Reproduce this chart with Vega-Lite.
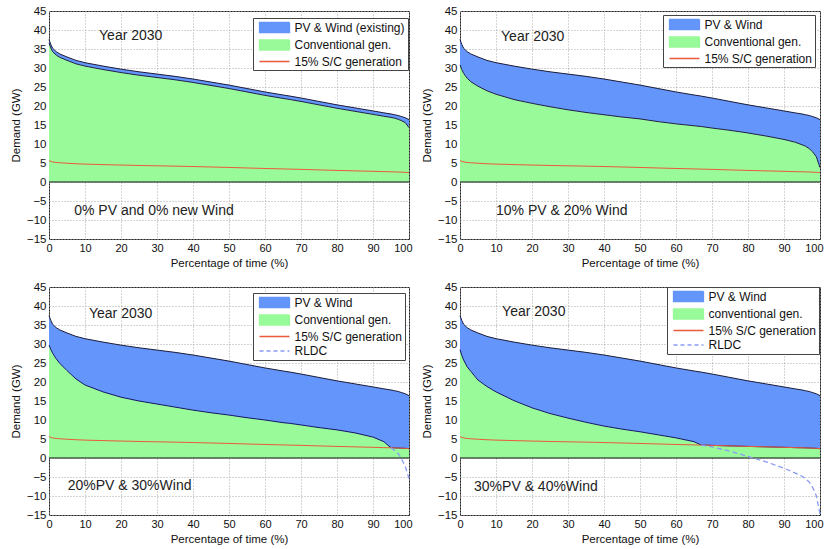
{
  "$schema": "https://vega.github.io/schema/vega-lite/v6.json",
  "background": "white",
  "padding": {"left": 9, "top": 4, "right": 0, "bottom": 0},
  "config": {
    "font": "Liberation Sans",
    "view": {"stroke": "#222", "strokeWidth": 1},
    "axis": {
      "labelFont": "Liberation Sans", "titleFont": "Liberation Sans",
      "labelFontSize": 11.5, "titleFontSize": 11.5, "titleFontWeight": "normal",
      "labelColor": "#111", "titleColor": "#111",
      "ticks": false, "domain": false, "labelPadding": 3,
      "labelFlush": false, "labelOverlap": false, "grid": true, "tickCount": 30,
      "gridColor": "#a8a8a8", "gridDash": [1, 2], "gridWidth": 1
    },
    "axisX": {"titlePadding": 4, "labelFontSize": 11},
    "axisY": {"titlePadding": 5},
    "legend": {
      "orient": "none", "title": null, "fillColor": "white", "strokeColor": "#444",
      "padding": 2.5, "rowPadding": 1.5, "symbolSize": 144, "labelOffset": 25,
      "labelFontSize": 12, "labelFont": "Liberation Sans", "labelColor": "#111",
      "cornerRadius": 0, "symbolOpacity": 1
    }
  },
  "datasets": {
    "tl": [
      {"x":0,"d":37.5,"c":36.6,"s":5.63},{"x":0.5,"d":36.2,"c":35.3,"s":5.43},{"x":1,"d":35.2,"c":34.3,"s":5.28},{"x":2,"d":34.3,"c":33.4,"s":5.15},{"x":3,"d":33.7,"c":32.8,"s":5.06},{"x":5,"d":32.9,"c":32.0,"s":4.94},{"x":7.5,"d":32.0,"c":31.1,"s":4.8},{"x":10,"d":31.4,"c":30.5,"s":4.71},{"x":15,"d":30.5,"c":29.6,"s":4.58},{"x":20,"d":29.7,"c":28.8,"s":4.46},{"x":25,"d":29.0,"c":28.1,"s":4.35},{"x":30,"d":28.4,"c":27.5,"s":4.26},{"x":35,"d":27.8,"c":26.9,"s":4.17},{"x":40,"d":27.1,"c":26.2,"s":4.07},{"x":45,"d":26.3,"c":25.4,"s":3.95},{"x":50,"d":25.5,"c":24.6,"s":3.83},{"x":55,"d":24.6,"c":23.7,"s":3.69},{"x":60,"d":23.7,"c":22.8,"s":3.56},{"x":65,"d":22.9,"c":22.0,"s":3.44},{"x":67,"d":22.6,"c":21.7,"s":3.39},{"x":70,"d":22.1,"c":21.2,"s":3.32},{"x":75,"d":21.2,"c":20.3,"s":3.18},{"x":80,"d":20.3,"c":19.4,"s":3.05},{"x":85,"d":19.5,"c":18.6,"s":2.93},{"x":90,"d":18.7,"c":17.8,"s":2.81},{"x":93,"d":18.2,"c":17.3,"s":2.73},{"x":95,"d":17.9,"c":17.0,"s":2.69},{"x":96,"d":17.7,"c":16.8,"s":2.66},{"x":97,"d":17.5,"c":16.5,"s":2.63},{"x":98,"d":17.2,"c":16.1,"s":2.58},{"x":99,"d":16.9,"c":15.6,"s":2.54},{"x":100,"d":16.4,"c":14.3,"s":2.46}
    ],
    "tr": [
      {"x":0,"d":37.5,"c":30.8,"s":5.63},{"x":0.5,"d":36.2,"c":29.6,"s":5.43},{"x":1,"d":35.2,"c":28.6,"s":5.28},{"x":2,"d":34.3,"c":27.3,"s":5.15},{"x":3,"d":33.7,"c":26.4,"s":5.06},{"x":5,"d":32.9,"c":25.2,"s":4.94},{"x":7.5,"d":32.0,"c":24.0,"s":4.8},{"x":10,"d":31.4,"c":23.1,"s":4.71},{"x":15,"d":30.5,"c":21.7,"s":4.58},{"x":20,"d":29.7,"c":20.7,"s":4.46},{"x":25,"d":29.0,"c":19.8,"s":4.35},{"x":30,"d":28.4,"c":19.0,"s":4.26},{"x":35,"d":27.8,"c":18.3,"s":4.17},{"x":40,"d":27.1,"c":17.7,"s":4.07},{"x":45,"d":26.3,"c":17.1,"s":3.95},{"x":50,"d":25.5,"c":16.6,"s":3.83},{"x":55,"d":24.6,"c":15.9,"s":3.69},{"x":60,"d":23.7,"c":15.3,"s":3.56},{"x":65,"d":22.9,"c":14.8,"s":3.44},{"x":67,"d":22.6,"c":14.6,"s":3.39},{"x":70,"d":22.1,"c":14.2,"s":3.32},{"x":75,"d":21.2,"c":13.6,"s":3.18},{"x":80,"d":20.3,"c":12.9,"s":3.05},{"x":85,"d":19.5,"c":12.1,"s":2.93},{"x":90,"d":18.7,"c":11.2,"s":2.81},{"x":93,"d":18.2,"c":10.5,"s":2.73},{"x":95,"d":17.9,"c":9.8,"s":2.69},{"x":96,"d":17.7,"c":9.4,"s":2.66},{"x":97,"d":17.5,"c":8.8,"s":2.63},{"x":98,"d":17.2,"c":7.9,"s":2.58},{"x":99,"d":16.9,"c":6.6,"s":2.54},{"x":100,"d":16.4,"c":3.8,"s":2.46}
    ],
    "bl": [
      {"x":0,"d":37.5,"c":29.7,"s":5.63},{"x":0.5,"d":36.2,"c":28.6,"s":5.43},{"x":1,"d":35.2,"c":27.6,"s":5.28},{"x":2,"d":34.3,"c":26.1,"s":5.15},{"x":3,"d":33.7,"c":24.9,"s":5.06},{"x":5,"d":32.9,"c":23.0,"s":4.94},{"x":7.5,"d":32.0,"c":20.8,"s":4.8},{"x":10,"d":31.4,"c":19.2,"s":4.71},{"x":15,"d":30.5,"c":17.4,"s":4.58},{"x":20,"d":29.7,"c":16.0,"s":4.46},{"x":25,"d":29.0,"c":15.0,"s":4.35},{"x":30,"d":28.4,"c":14.2,"s":4.26},{"x":35,"d":27.8,"c":13.4,"s":4.17},{"x":40,"d":27.1,"c":12.6,"s":4.07},{"x":45,"d":26.3,"c":11.9,"s":3.95},{"x":50,"d":25.5,"c":11.3,"s":3.83},{"x":55,"d":24.6,"c":10.6,"s":3.69},{"x":60,"d":23.7,"c":10.0,"s":3.56},{"x":65,"d":22.9,"c":9.3,"s":3.44},{"x":67,"d":22.6,"c":9.1,"s":3.39},{"x":70,"d":22.1,"c":8.7,"s":3.32},{"x":75,"d":21.2,"c":8.0,"s":3.18},{"x":80,"d":20.3,"c":7.4,"s":3.05},{"x":85,"d":19.5,"c":6.6,"s":2.93},{"x":90,"d":18.7,"c":5.5,"s":2.81},{"x":93,"d":18.2,"c":4.3,"s":2.73},{"x":95,"d":17.9,"c":2.69,"s":2.69,"r":2.69},{"x":96,"d":17.7,"c":2.66,"s":2.66,"r":2.0},{"x":97,"d":17.5,"c":2.63,"s":2.63,"r":1.2},{"x":98,"d":17.2,"c":2.58,"s":2.58,"r":-0.4},{"x":99,"d":16.9,"c":2.54,"s":2.54,"r":-2.3},{"x":100,"d":16.4,"c":2.46,"s":2.46,"r":-5.4}
    ],
    "br": [
      {"x":0,"d":37.5,"c":28.5,"s":5.63},{"x":0.5,"d":36.2,"c":27.0,"s":5.43},{"x":1,"d":35.2,"c":25.8,"s":5.28},{"x":2,"d":34.3,"c":24.0,"s":5.15},{"x":3,"d":33.7,"c":22.8,"s":5.06},{"x":5,"d":32.9,"c":20.5,"s":4.94},{"x":7.5,"d":32.0,"c":18.8,"s":4.8},{"x":10,"d":31.4,"c":17.4,"s":4.71},{"x":15,"d":30.5,"c":15.1,"s":4.58},{"x":20,"d":29.7,"c":13.2,"s":4.46},{"x":25,"d":29.0,"c":11.7,"s":4.35},{"x":30,"d":28.4,"c":10.5,"s":4.26},{"x":35,"d":27.8,"c":9.4,"s":4.17},{"x":40,"d":27.1,"c":8.4,"s":4.07},{"x":45,"d":26.3,"c":7.6,"s":3.95},{"x":50,"d":25.5,"c":6.9,"s":3.83},{"x":55,"d":24.6,"c":6.1,"s":3.69},{"x":60,"d":23.7,"c":5.3,"s":3.56},{"x":65,"d":22.9,"c":4.3,"s":3.44},{"x":67,"d":22.6,"c":3.39,"s":3.39,"r":3.39},{"x":70,"d":22.1,"c":3.32,"s":3.32,"r":2.9},{"x":75,"d":21.2,"c":3.18,"s":3.18,"r":1.8},{"x":80,"d":20.3,"c":3.05,"s":3.05,"r":0.4},{"x":85,"d":19.5,"c":2.93,"s":2.93,"r":-1.0},{"x":90,"d":18.7,"c":2.81,"s":2.81,"r":-2.7},{"x":93,"d":18.2,"c":2.73,"s":2.73,"r":-3.9},{"x":95,"d":17.9,"c":2.69,"s":2.69,"r":-4.8},{"x":96,"d":17.7,"c":2.66,"s":2.66,"r":-5.5},{"x":97,"d":17.5,"c":2.63,"s":2.63,"r":-6.3},{"x":98,"d":17.2,"c":2.58,"s":2.58,"r":-7.8},{"x":99,"d":16.9,"c":2.54,"s":2.54,"r":-10.0},{"x":100,"d":16.4,"c":2.46,"s":2.46,"r":-14.7}
    ]
  },
  "columns": 2,
  "bounds": "flush",
  "spacing": {"row": 48, "column": 51},
  "resolve": {"scale": {"color": "independent"}, "legend": {"color": "independent"}},
  "concat": [
    {
      "width": 360, "height": 228,
      "layer": [
        {"data": {"name": "tl"}, "mark": {"type": "area", "opacity": 1}, "encoding": {
          "x": {"field": "x", "type": "quantitative", "scale": {"domain": [0, 100], "nice": false}, "title": "Percentage of time (%)", "axis": {"values": [0,10,20,30,40,50,60,70,80,90,100], "tickCount": 30, "grid": true, "labelOverlap": false, "labelFlush": true, "labelFlushOffset": 3}},
          "y": {"field": "d", "type": "quantitative", "scale": {"domain": [-15, 45], "nice": false}, "title": "Demand (GW)", "axis": {"values": [-15,-10,-5,0,5,10,15,20,25,30,35,40,45], "tickCount": 30, "grid": true, "labelOverlap": false}},
          "y2": {"field": "c"},
          "color": {"datum": "PV & Wind (existing)", "scale": {"domain": ["PV & Wind (existing)", "Conventional gen.", "15% S/C generation"], "range": ["#6395fa", "#98fa98", "#ec5a3c"]}, "legend": {"legendX": 204, "legendY": 7, "encode": {"symbols": {"update": {
            "shape": {"signal": "(datum.index >= 2 || indexof(datum.value, '15%') === 0 || datum.value === 'RLDC') ? 'M-0.5,0H4.5' : 'M-0.5,-0.833H4.5V0.833H-0.5Z'"},
            "fill": {"signal": "(datum.index === 0 || indexof(datum.value, 'PV') === 0) ? '#6395fa' : ((datum.index === 1 || indexof(lower(datum.value), 'conventional') === 0) ? '#98fa98' : 'transparent')"},
            "stroke": {"signal": "(datum.index === 2 || indexof(datum.value, '15%') === 0) ? '#ec5a3c' : ((datum.index === 3 || datum.value === 'RLDC') ? '#8c9bf5' : '#333')"},
            "strokeDash": {"signal": "(datum.index === 3 || datum.value === 'RLDC') ? [4, 3] : [1, 0]"},
            "strokeWidth": {"value": 1.3}, "size": {"value": 144}, "opacity": {"value": 1}}}}}}}},
        {"data": {"name": "tl"}, "mark": {"type": "area", "opacity": 1}, "encoding": {"x": {"field": "x", "type": "quantitative", "title": "Percentage of time (%)"}, "y": {"field": "c", "type": "quantitative", "title": "Demand (GW)"}, "y2": {"datum": 0}, "color": {"datum": "Conventional gen."}}},
        {"data": {"name": "tl"}, "mark": {"type": "line", "color": "#1c1c3a", "strokeWidth": 1}, "encoding": {"x": {"field": "x", "type": "quantitative", "title": "Percentage of time (%)"}, "y": {"field": "d", "type": "quantitative", "title": "Demand (GW)"}}},
        {"data": {"name": "tl"}, "mark": {"type": "line", "color": "#1c1c4a", "strokeWidth": 1}, "encoding": {"x": {"field": "x", "type": "quantitative", "title": "Percentage of time (%)"}, "y": {"field": "c", "type": "quantitative", "title": "Demand (GW)"}}},
        {"data": {"values": [{}]}, "mark": {"type": "rule", "color": "#111", "strokeWidth": 1}, "encoding": {"y": {"datum": 0, "type": "quantitative", "title": "Demand (GW)"}}},
        {"data": {"name": "tl"}, "mark": {"type": "line", "strokeWidth": 1}, "encoding": {"x": {"field": "x", "type": "quantitative", "title": "Percentage of time (%)"}, "y": {"field": "s", "type": "quantitative", "title": "Demand (GW)"}, "color": {"datum": "15% S/C generation"}}},
        {"data": {"values": [{}]}, "mark": {"type": "text", "align": "left", "baseline": "middle", "fontSize": 14, "font": "Liberation Sans", "fill": "#222"}, "encoding": {"x": {"datum": 13.9, "type": "quantitative", "title": "Percentage of time (%)"}, "y": {"datum": 38.4, "type": "quantitative", "title": "Demand (GW)"}, "text": {"value": "Year 2030"}}},
        {"data": {"values": [{}]}, "mark": {"type": "text", "align": "left", "baseline": "middle", "fontSize": 14, "font": "Liberation Sans", "fill": "#222"}, "encoding": {"x": {"datum": 7, "type": "quantitative", "title": "Percentage of time (%)"}, "y": {"datum": -7.6, "type": "quantitative", "title": "Demand (GW)"}, "text": {"value": "0% PV and 0% new Wind"}}}
      ]
    },
    {
      "width": 360, "height": 228,
      "layer": [
        {"data": {"name": "tr"}, "mark": {"type": "area", "opacity": 1}, "encoding": {
          "x": {"field": "x", "type": "quantitative", "scale": {"domain": [0, 100], "nice": false}, "title": "Percentage of time (%)", "axis": {"values": [0,10,20,30,40,50,60,70,80,90,100], "tickCount": 30, "grid": true, "labelOverlap": false, "labelFlush": true, "labelFlushOffset": 3}},
          "y": {"field": "d", "type": "quantitative", "scale": {"domain": [-15, 45], "nice": false}, "title": "Demand (GW)", "axis": {"values": [-15,-10,-5,0,5,10,15,20,25,30,35,40,45], "tickCount": 30, "grid": true, "labelOverlap": false}},
          "y2": {"field": "c"},
          "color": {"datum": "PV & Wind", "scale": {"domain": ["PV & Wind", "Conventional gen.", "15% S/C generation"], "range": ["#6395fa", "#98fa98", "#ec5a3c"]}, "legend": {"legendX": 203, "legendY": 4, "encode": {"symbols": {"update": {
            "shape": {"signal": "(datum.index >= 2 || indexof(datum.value, '15%') === 0 || datum.value === 'RLDC') ? 'M-0.5,0H4.5' : 'M-0.5,-0.833H4.5V0.833H-0.5Z'"},
            "fill": {"signal": "(datum.index === 0 || indexof(datum.value, 'PV') === 0) ? '#6395fa' : ((datum.index === 1 || indexof(lower(datum.value), 'conventional') === 0) ? '#98fa98' : 'transparent')"},
            "stroke": {"signal": "(datum.index === 2 || indexof(datum.value, '15%') === 0) ? '#ec5a3c' : ((datum.index === 3 || datum.value === 'RLDC') ? '#8c9bf5' : '#333')"},
            "strokeDash": {"signal": "(datum.index === 3 || datum.value === 'RLDC') ? [4, 3] : [1, 0]"},
            "strokeWidth": {"value": 1.3}, "size": {"value": 144}, "opacity": {"value": 1}}}}}}}},
        {"data": {"name": "tr"}, "mark": {"type": "area", "opacity": 1}, "encoding": {"x": {"field": "x", "type": "quantitative", "title": "Percentage of time (%)"}, "y": {"field": "c", "type": "quantitative", "title": "Demand (GW)"}, "y2": {"datum": 0}, "color": {"datum": "Conventional gen."}}},
        {"data": {"name": "tr"}, "mark": {"type": "line", "color": "#1c1c3a", "strokeWidth": 1}, "encoding": {"x": {"field": "x", "type": "quantitative", "title": "Percentage of time (%)"}, "y": {"field": "d", "type": "quantitative", "title": "Demand (GW)"}}},
        {"data": {"name": "tr"}, "mark": {"type": "line", "color": "#1c1c4a", "strokeWidth": 1}, "encoding": {"x": {"field": "x", "type": "quantitative", "title": "Percentage of time (%)"}, "y": {"field": "c", "type": "quantitative", "title": "Demand (GW)"}}},
        {"data": {"values": [{}]}, "mark": {"type": "rule", "color": "#111", "strokeWidth": 1}, "encoding": {"y": {"datum": 0, "type": "quantitative", "title": "Demand (GW)"}}},
        {"data": {"name": "tr"}, "mark": {"type": "line", "strokeWidth": 1}, "encoding": {"x": {"field": "x", "type": "quantitative", "title": "Percentage of time (%)"}, "y": {"field": "s", "type": "quantitative", "title": "Demand (GW)"}, "color": {"datum": "15% S/C generation"}}},
        {"data": {"values": [{}]}, "mark": {"type": "text", "align": "left", "baseline": "middle", "fontSize": 14, "font": "Liberation Sans", "fill": "#222"}, "encoding": {"x": {"datum": 11.4, "type": "quantitative", "title": "Percentage of time (%)"}, "y": {"datum": 38.1, "type": "quantitative", "title": "Demand (GW)"}, "text": {"value": "Year 2030"}}},
        {"data": {"values": [{}]}, "mark": {"type": "text", "align": "left", "baseline": "middle", "fontSize": 14, "font": "Liberation Sans", "fill": "#222"}, "encoding": {"x": {"datum": 10, "type": "quantitative", "title": "Percentage of time (%)"}, "y": {"datum": -7.6, "type": "quantitative", "title": "Demand (GW)"}, "text": {"value": "10% PV & 20% Wind"}}}
      ]
    },
    {
      "width": 360, "height": 228,
      "layer": [
        {"data": {"name": "bl"}, "mark": {"type": "area", "opacity": 1}, "encoding": {
          "x": {"field": "x", "type": "quantitative", "scale": {"domain": [0, 100], "nice": false}, "title": "Percentage of time (%)", "axis": {"values": [0,10,20,30,40,50,60,70,80,90,100], "tickCount": 30, "grid": true, "labelOverlap": false, "labelFlush": true, "labelFlushOffset": 3}},
          "y": {"field": "d", "type": "quantitative", "scale": {"domain": [-15, 45], "nice": false}, "title": "Demand (GW)", "axis": {"values": [-15,-10,-5,0,5,10,15,20,25,30,35,40,45], "tickCount": 30, "grid": true, "labelOverlap": false}},
          "y2": {"field": "c"},
          "color": {"datum": "PV & Wind", "scale": {"domain": ["PV & Wind", "Conventional gen.", "15% S/C generation", "RLDC"], "range": ["#6395fa", "#98fa98", "#ec5a3c", "#8c9bf5"]}, "legend": {"legendX": 204, "legendY": 6, "encode": {"symbols": {"update": {
            "shape": {"signal": "(datum.index >= 2 || indexof(datum.value, '15%') === 0 || datum.value === 'RLDC') ? 'M-0.5,0H4.5' : 'M-0.5,-0.833H4.5V0.833H-0.5Z'"},
            "fill": {"signal": "(datum.index === 0 || indexof(datum.value, 'PV') === 0) ? '#6395fa' : ((datum.index === 1 || indexof(lower(datum.value), 'conventional') === 0) ? '#98fa98' : 'transparent')"},
            "stroke": {"signal": "(datum.index === 2 || indexof(datum.value, '15%') === 0) ? '#ec5a3c' : ((datum.index === 3 || datum.value === 'RLDC') ? '#8c9bf5' : '#333')"},
            "strokeDash": {"signal": "(datum.index === 3 || datum.value === 'RLDC') ? [4, 3] : [1, 0]"},
            "strokeWidth": {"value": 1.3}, "size": {"value": 144}, "opacity": {"value": 1}}}}}}}},
        {"data": {"name": "bl"}, "mark": {"type": "area", "opacity": 1}, "encoding": {"x": {"field": "x", "type": "quantitative", "title": "Percentage of time (%)"}, "y": {"field": "c", "type": "quantitative", "title": "Demand (GW)"}, "y2": {"datum": 0}, "color": {"datum": "Conventional gen."}}},
        {"data": {"name": "bl"}, "mark": {"type": "line", "color": "#1c1c3a", "strokeWidth": 1}, "encoding": {"x": {"field": "x", "type": "quantitative", "title": "Percentage of time (%)"}, "y": {"field": "d", "type": "quantitative", "title": "Demand (GW)"}}},
        {"data": {"name": "bl"}, "mark": {"type": "line", "color": "#12126a", "strokeWidth": 1}, "encoding": {"x": {"field": "x", "type": "quantitative", "title": "Percentage of time (%)"}, "y": {"field": "c", "type": "quantitative", "title": "Demand (GW)"}}},
        {"data": {"values": [{}]}, "mark": {"type": "rule", "color": "#111", "strokeWidth": 1}, "encoding": {"y": {"datum": 0, "type": "quantitative", "title": "Demand (GW)"}}},
        {"data": {"name": "bl"}, "mark": {"type": "line", "strokeWidth": 1}, "encoding": {"x": {"field": "x", "type": "quantitative", "title": "Percentage of time (%)"}, "y": {"field": "s", "type": "quantitative", "title": "Demand (GW)"}, "color": {"datum": "15% S/C generation"}}},
        {"data": {"name": "bl"}, "mark": {"type": "line", "strokeWidth": 1.3, "strokeDash": [5, 3]}, "encoding": {"x": {"field": "x", "type": "quantitative", "title": "Percentage of time (%)"}, "y": {"field": "r", "type": "quantitative", "title": "Demand (GW)"}, "color": {"datum": "RLDC"}}},
        {"data": {"values": [{}]}, "mark": {"type": "text", "align": "left", "baseline": "middle", "fontSize": 14, "font": "Liberation Sans", "fill": "#222"}, "encoding": {"x": {"datum": 11.1, "type": "quantitative", "title": "Percentage of time (%)"}, "y": {"datum": 37.9, "type": "quantitative", "title": "Demand (GW)"}, "text": {"value": "Year 2030"}}},
        {"data": {"values": [{}]}, "mark": {"type": "text", "align": "left", "baseline": "middle", "fontSize": 14, "font": "Liberation Sans", "fill": "#222"}, "encoding": {"x": {"datum": 5.2, "type": "quantitative", "title": "Percentage of time (%)"}, "y": {"datum": -7.4, "type": "quantitative", "title": "Demand (GW)"}, "text": {"value": "20%PV & 30%Wind"}}}
      ]
    },
    {
      "width": 360, "height": 228,
      "layer": [
        {"data": {"name": "br"}, "mark": {"type": "area", "opacity": 1}, "encoding": {
          "x": {"field": "x", "type": "quantitative", "scale": {"domain": [0, 100], "nice": false}, "title": "Percentage of time (%)", "axis": {"values": [0,10,20,30,40,50,60,70,80,90,100], "tickCount": 30, "grid": true, "labelOverlap": false, "labelFlush": true, "labelFlushOffset": 3}},
          "y": {"field": "d", "type": "quantitative", "scale": {"domain": [-15, 45], "nice": false}, "title": "Demand (GW)", "axis": {"values": [-15,-10,-5,0,5,10,15,20,25,30,35,40,45], "tickCount": 30, "grid": true, "labelOverlap": false}},
          "y2": {"field": "c"},
          "color": {"datum": "PV & Wind", "scale": {"domain": ["PV & Wind", "conventional gen.", "15% S/C generation", "RLDC"], "range": ["#6395fa", "#98fa98", "#ec5a3c", "#8c9bf5"]}, "legend": {"legendX": 207, "legendY": 0, "encode": {"symbols": {"update": {
            "shape": {"signal": "(datum.index >= 2 || indexof(datum.value, '15%') === 0 || datum.value === 'RLDC') ? 'M-0.5,0H4.5' : 'M-0.5,-0.833H4.5V0.833H-0.5Z'"},
            "fill": {"signal": "(datum.index === 0 || indexof(datum.value, 'PV') === 0) ? '#6395fa' : ((datum.index === 1 || indexof(lower(datum.value), 'conventional') === 0) ? '#98fa98' : 'transparent')"},
            "stroke": {"signal": "(datum.index === 2 || indexof(datum.value, '15%') === 0) ? '#ec5a3c' : ((datum.index === 3 || datum.value === 'RLDC') ? '#8c9bf5' : '#333')"},
            "strokeDash": {"signal": "(datum.index === 3 || datum.value === 'RLDC') ? [4, 3] : [1, 0]"},
            "strokeWidth": {"value": 1.3}, "size": {"value": 144}, "opacity": {"value": 1}}}}}}}},
        {"data": {"name": "br"}, "mark": {"type": "area", "opacity": 1}, "encoding": {"x": {"field": "x", "type": "quantitative", "title": "Percentage of time (%)"}, "y": {"field": "c", "type": "quantitative", "title": "Demand (GW)"}, "y2": {"datum": 0}, "color": {"datum": "conventional gen."}}},
        {"data": {"name": "br"}, "mark": {"type": "line", "color": "#1c1c3a", "strokeWidth": 1}, "encoding": {"x": {"field": "x", "type": "quantitative", "title": "Percentage of time (%)"}, "y": {"field": "d", "type": "quantitative", "title": "Demand (GW)"}}},
        {"data": {"name": "br"}, "mark": {"type": "line", "color": "#12126a", "strokeWidth": 1}, "encoding": {"x": {"field": "x", "type": "quantitative", "title": "Percentage of time (%)"}, "y": {"field": "c", "type": "quantitative", "title": "Demand (GW)"}}},
        {"data": {"values": [{}]}, "mark": {"type": "rule", "color": "#111", "strokeWidth": 1}, "encoding": {"y": {"datum": 0, "type": "quantitative", "title": "Demand (GW)"}}},
        {"data": {"name": "br"}, "mark": {"type": "line", "strokeWidth": 1}, "encoding": {"x": {"field": "x", "type": "quantitative", "title": "Percentage of time (%)"}, "y": {"field": "s", "type": "quantitative", "title": "Demand (GW)"}, "color": {"datum": "15% S/C generation"}}},
        {"data": {"name": "br"}, "mark": {"type": "line", "strokeWidth": 1.3, "strokeDash": [5, 3]}, "encoding": {"x": {"field": "x", "type": "quantitative", "title": "Percentage of time (%)"}, "y": {"field": "r", "type": "quantitative", "title": "Demand (GW)"}, "color": {"datum": "RLDC"}}},
        {"data": {"values": [{}]}, "mark": {"type": "text", "align": "left", "baseline": "middle", "fontSize": 14, "font": "Liberation Sans", "fill": "#222"}, "encoding": {"x": {"datum": 11.7, "type": "quantitative", "title": "Percentage of time (%)"}, "y": {"datum": 38.4, "type": "quantitative", "title": "Demand (GW)"}, "text": {"value": "Year 2030"}}},
        {"data": {"values": [{}]}, "mark": {"type": "text", "align": "left", "baseline": "middle", "fontSize": 14, "font": "Liberation Sans", "fill": "#222"}, "encoding": {"x": {"datum": 3.9, "type": "quantitative", "title": "Percentage of time (%)"}, "y": {"datum": -7.6, "type": "quantitative", "title": "Demand (GW)"}, "text": {"value": "30%PV & 40%Wind"}}}
      ]
    }
  ]
}
